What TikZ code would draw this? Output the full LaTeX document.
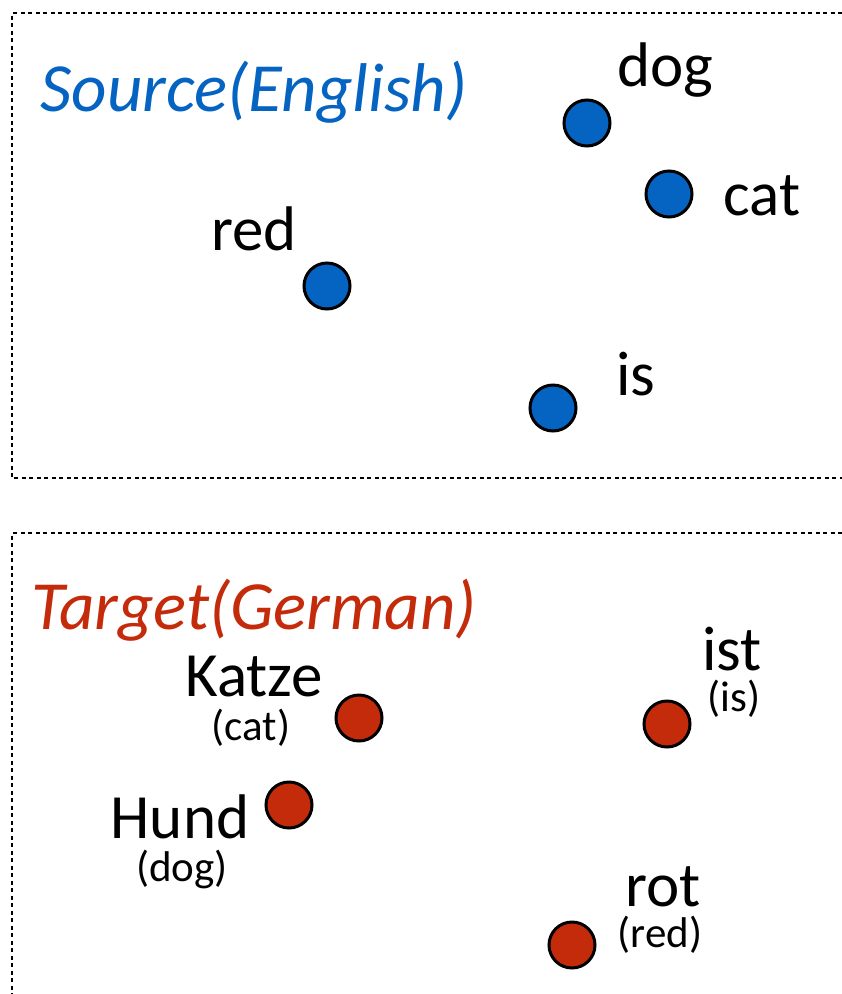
\documentclass[tikz,border=0pt]{standalone}
\usepackage{fontspec}
\setmainfont{Carlito}
\definecolor{srcblue}{HTML}{0563C1}
\definecolor{tgtred}{HTML}{C42B0A}
\begin{document}
\begin{tikzpicture}[x=1pt,y=-1pt,
  frame/.style={line width=2pt,dash pattern=on 4pt off 3.5pt},
  dot/.style={circle,draw=black,line width=3pt,minimum size=46pt,inner sep=0pt},
  srcdot/.style={dot,fill=srcblue},
  tgtdot/.style={dot,fill=tgtred},
  word/.style={inner sep=0pt,font=\fontsize{63}{65}\selectfont},
  gloss/.style={inner sep=0pt,font=\fontsize{43}{45}\selectfont},
  title/.style={inner sep=0pt,font=\fontsize{69}{71}\selectfont\itshape}]
\useasboundingbox (0,0) rectangle (842,994);

% frames of the two embedding spaces (open on the right / bottom)
\draw[frame] (842,13) -- (12,13) -- (12,478) -- (842,478);
\draw[frame] (842,533) -- (12,533) -- (12,994);

% source space
\node[title,text=srcblue] (srct) at (254,92) {Source(English)};
\node[srcdot] (dog) at (587,123) {};
\node[srcdot] (cat) at (669,194) {};
\node[srcdot] (red) at (327,286) {};
\node[srcdot] (is)  at (553,408) {};
\node[word] (ldog) at (665,70)  {dog};
\node[word] (lcat) at (762,196) {cat};
\node[word] (lred) at (254,229) {red};
\node[word] (lis)  at (636,374) {is};

% target space
\node[title,text=tgtred] (tgtt) at (254,610) {Target(German)};
\node[tgtdot] (katze) at (359,718) {};
\node[tgtdot] (ist)   at (667,724) {};
\node[tgtdot] (hund)  at (289,805) {};
\node[tgtdot] (rot)   at (572,945) {};
\node[word]  (lkatze) at (254,677) {Katze};
\node[gloss] (gkatze) at (251,728) {(cat)};
\node[word]  (lhund)  at (180,817) {Hund};
\node[gloss] (ghund)  at (182,869) {(dog)};
\node[word]  (list)   at (732,649) {ist};
\node[gloss] (gist)   at (734,699) {(is)};
\node[word]  (lrot)   at (663,887) {rot};
\node[gloss] (grot)   at (660,935) {(red)};
\end{tikzpicture}
\end{document}
